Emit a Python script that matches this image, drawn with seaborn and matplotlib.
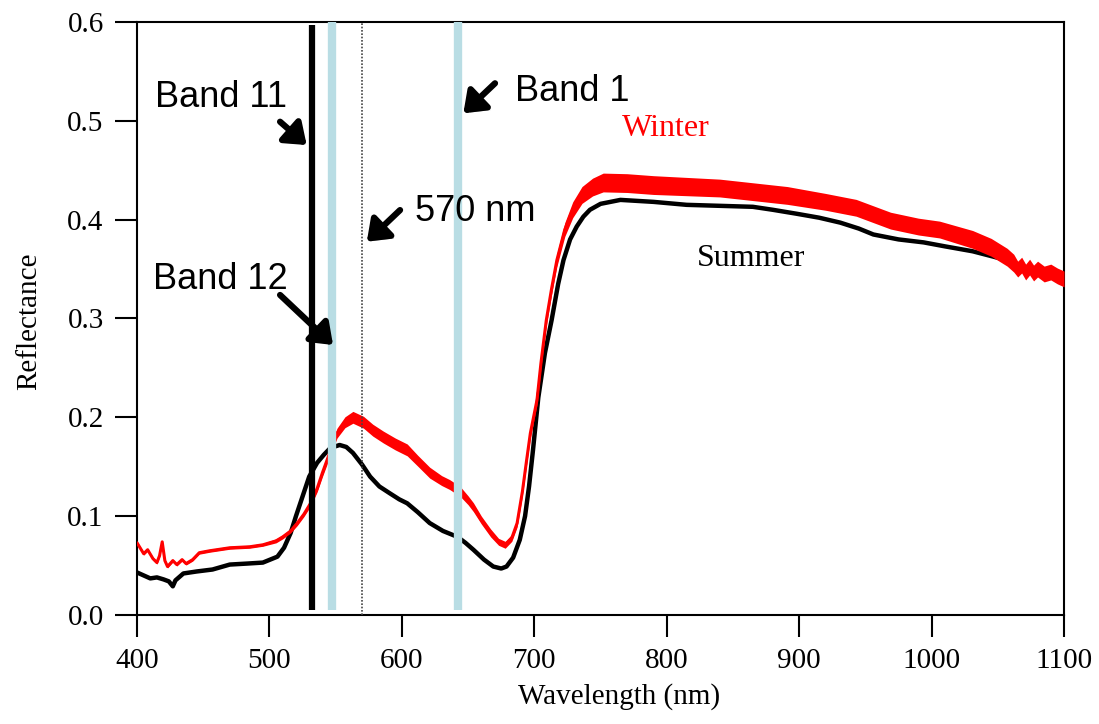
import numpy as np
import pandas as pd
import seaborn as sb
import matplotlib
matplotlib.use("Agg")
import matplotlib.pyplot as plt
import matplotlib.patheffects as pe

# Winter spectrum (red, thick band)
winter_wl = [400, 405, 408, 412, 415, 417, 419, 421, 423, 427, 430, 434, 437, 442, 447, 455,
             470, 485, 495, 505, 510, 516, 521, 526, 531, 536, 540, 546, 551, 557, 563, 571,
             578, 586, 595, 604, 612, 621, 630, 636, 644, 650, 654, 660, 667, 673, 678, 683,
             687, 691, 694, 697, 702, 705, 709, 713, 717, 723, 729, 736, 744, 752, 770, 790,
             840, 891, 920, 943, 969, 990, 1006, 1031, 1045, 1057, 1062, 1065, 1068, 1071,
             1074, 1077, 1080, 1085, 1090, 1095, 1100]
winter_refl = [0.073, 0.062, 0.066, 0.057, 0.053, 0.060, 0.074, 0.055, 0.049, 0.055, 0.051,
               0.056, 0.052, 0.056, 0.063, 0.065, 0.068, 0.069, 0.071, 0.075, 0.079, 0.085,
               0.093, 0.102, 0.113, 0.128, 0.144, 0.166, 0.184, 0.195, 0.200, 0.195, 0.187,
               0.180, 0.173, 0.167, 0.156, 0.144, 0.136, 0.132, 0.125, 0.116, 0.109, 0.096,
               0.083, 0.074, 0.071, 0.078, 0.093, 0.125, 0.155, 0.184, 0.2175, 0.255, 0.298,
               0.330, 0.359, 0.390, 0.410, 0.425, 0.433, 0.4376, 0.437, 0.435, 0.432, 0.4245,
               0.418, 0.412, 0.399, 0.393, 0.390, 0.380, 0.372, 0.362, 0.356, 0.350, 0.354,
               0.347, 0.352, 0.346, 0.350, 0.345, 0.347, 0.343, 0.340]
winter_spread = [0.0015, 0.0015, 0.0015, 0.0015, 0.0015, 0.0015, 0.0015, 0.0015, 0.0015,
                 0.0015, 0.0015, 0.0015, 0.0015, 0.0015, 0.0015, 0.0015, 0.0015, 0.0015,
                 0.0015, 0.002, 0.002, 0.002, 0.0025, 0.0025, 0.003, 0.0035, 0.004, 0.0045,
                 0.005, 0.0055, 0.006, 0.006, 0.006, 0.006, 0.006, 0.006, 0.0055, 0.0055,
                 0.005, 0.005, 0.005, 0.0045, 0.0045, 0.004, 0.004, 0.0035, 0.0035, 0.0035,
                 0.004, 0.004, 0.0045, 0.0045, 0.005, 0.005, 0.0055, 0.006, 0.0065, 0.007,
                 0.008, 0.0085, 0.009, 0.0095, 0.0095, 0.0095, 0.009, 0.009, 0.0085, 0.0085,
                 0.0085, 0.0085, 0.0085, 0.009, 0.009, 0.009, 0.009, 0.008, 0.008, 0.008,
                 0.008, 0.008, 0.008, 0.008, 0.008, 0.008, 0.008]

# Summer spectrum (black)
summer_wl = [400, 405, 410, 415, 420, 424, 427, 429, 435, 445, 457, 470, 483, 495, 506, 511,
             516, 520, 525, 530, 536, 541, 546, 553, 558, 563, 570, 576, 583, 591, 598, 604,
             612, 621, 631, 642, 648, 654, 662, 669, 675, 679, 684, 689, 693, 696, 699, 703,
             708, 713, 718, 722, 727, 732, 737, 742, 750, 765, 790, 815, 840, 865, 880, 898,
             915, 931, 945, 956, 975, 994, 1010, 1031, 1054, 1070, 1085, 1100]
summer_refl = [0.043, 0.040, 0.037, 0.038, 0.036, 0.034, 0.029, 0.035, 0.042, 0.044, 0.046,
               0.051, 0.052, 0.053, 0.059, 0.068, 0.083, 0.100, 0.120, 0.140, 0.154, 0.162,
               0.169, 0.172, 0.170, 0.164, 0.152, 0.140, 0.130, 0.123, 0.117, 0.113, 0.104,
               0.093, 0.085, 0.079, 0.073, 0.066, 0.056, 0.049, 0.047, 0.049, 0.058, 0.076,
               0.100, 0.130, 0.167, 0.220, 0.265, 0.298, 0.335, 0.359, 0.380, 0.393, 0.403,
               0.410, 0.416, 0.420, 0.418, 0.415, 0.414, 0.413, 0.410, 0.406, 0.402, 0.397,
               0.391, 0.385, 0.380, 0.377, 0.373, 0.368, 0.360, 0.349, 0.345, 0.340]

band_lines = {"band11": 532, "band12": 547, "nm570": 570, "band1": 642}

winter = pd.DataFrame({"wl": winter_wl, "refl": winter_refl, "spread": winter_spread})
summer = pd.DataFrame({"wl": summer_wl, "refl": summer_refl})

sb.set_style("ticks")
plt.rcParams["font.family"] = ["Liberation Serif", "DejaVu Serif"]
plt.rcParams["text.color"] = "black"
plt.rcParams["axes.labelcolor"] = "black"

fig = plt.figure(figsize=(10.99, 7.24), dpi=100)
ax = fig.add_axes([0.1247, 0.1506, 0.8435, 0.819])

sb.lineplot(data=summer, x="wl", y="refl", color="black", linewidth=3.2, ax=ax, zorder=2)
ax.fill_between(winter["wl"], winter["refl"] - winter["spread"], winter["refl"] + winter["spread"],
                color="#ff0000", linewidth=0, zorder=3)
sb.lineplot(data=winter, x="wl", y="refl", color="#ff0000", linewidth=2.2, ax=ax, zorder=3)

# vertical band markers (drawn over the spectra)
ax.vlines(band_lines["band11"], 0.005, 0.597, color="black", linewidth=4.5, zorder=5)
ax.vlines(band_lines["band12"], 0.005, 0.6, color="#b9dde4", linewidth=6, zorder=5)
ax.vlines(band_lines["band1"], 0.005, 0.6, color="#b9dde4", linewidth=6, zorder=5)
ax.vlines(band_lines["nm570"], 0.0, 0.6, color="#444444", linewidth=1.2,
          linestyles=(0, (1, 1)), zorder=5)

ax.set_xlim(400, 1100)
ax.set_ylim(0, 0.6)
ax.set_xticks(np.arange(400, 1101, 100))
ax.set_yticks(np.arange(0, 0.61, 0.1))
ax.yaxis.set_major_formatter(matplotlib.ticker.FormatStrFormatter("%.1f"))
ax.tick_params(direction="out", length=16, width=1.5, labelsize=21, pad=8, colors="black")
for s in ax.spines.values():
    s.set_linewidth(1.5)
    s.set_color("black")

ax.set_xlabel("Wavelength (nm)", fontsize=21)
ax.set_ylabel("Reflectance", fontsize=21)
ax.xaxis.set_label_coords(0.52, -0.115)
ax.yaxis.set_label_coords(-0.1025, 0.495)

ax.text(766, 0.4927, "Winter", color="#ff0000", fontsize=23, va="center", ha="left")
ax.text(823, 0.3612, "Summer", color="black", fontsize=23, va="center", ha="left")

shadow = [pe.withSimplePatchShadow(offset=(2, -2), alpha=0.35)]
arrow_kw = dict(arrowstyle="-|>,head_length=0.6,head_width=0.45", color="black", lw=4.5,
                shrinkA=0, shrinkB=0, mutation_scale=20, path_effects=shadow)
notes = [
    ("Band 11", (413.6, 0.5236), (508.0, 0.4991), (528.1, 0.4755)),
    ("Band 1", (685.4, 0.5297), (670.3, 0.538), (646.4, 0.5076)),
    ("570 nm", (609.9, 0.4083), (598.6, 0.4097), (573.5, 0.3777)),
    ("Band 12", (412.1, 0.3395), (508.0, 0.3238), (548.0, 0.2732)),
]
for label, txy, tail, tip in notes:
    ax.text(txy[0], txy[1], label, fontsize=26, color="black",
            family=["Liberation Sans", "DejaVu Sans"], va="center", ha="left", zorder=6)
    ax.annotate("", xy=tip, xytext=tail, arrowprops=arrow_kw, zorder=6)

fig.savefig("out.png", dpi=100)
